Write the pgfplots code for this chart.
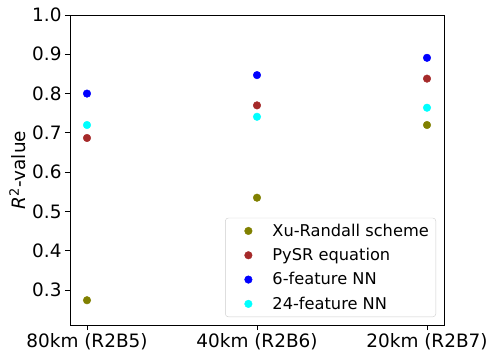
\documentclass[border=0pt]{standalone}
\usepackage{fontspec}
\setmainfont{DejaVu Sans}
\usepackage{pgfplots}
\pgfplotsset{compat=1.18}
\definecolor{cOlive}{HTML}{808000}
\definecolor{cBrown}{HTML}{A52A2A}
\definecolor{cBlue}{HTML}{0000FF}
\definecolor{cCyan}{HTML}{00FFFF}

\begin{document}
\begin{tikzpicture}
\begin{axis}[
  scale only axis,
  width=374bp, height=310bp,
  xmin=-0.1, xmax=2.1,
  ymin=0.211, ymax=1.0,
  xtick={0,1,2},
  xticklabels={80km (R2B5), 40km (R2B6), 20km (R2B7)},
  ytick={0.3,0.4,0.5,0.6,0.7,0.8,0.9,1.0},
  yticklabel style={/pgf/number format/.cd, fixed, fixed zerofill, precision=1},
  /pgf/number format/assume math mode=true,
  tick label style={font=\fontsize{18.5}{22}\selectfont},
  label style={font=\fontsize{18.5}{22}\selectfont},
  ylabel={\textit{R}\textsuperscript{2}-value},
  tick align=outside,
  xtick pos=bottom, ytick pos=left,
  major tick length=5bp,
  axis line style={line width=0.9pt},
  every tick/.style={black, line width=0.8pt},
  legend style={
    at={(1,0)}, anchor=south east, xshift=-8bp, yshift=8bp,
    font=\fontsize{16.3}{19}\selectfont,
    draw=black!20, rounded corners=3bp, fill=white,
    row sep=6.5bp, inner xsep=5bp, inner ysep=4bp,
    /tikz/every even column/.append style={column sep=7bp},
  },
  legend cell align=left,
  legend image code/.code={\draw[draw opacity=0, line width=0.1pt] (0bp,0bp) -- (40bp,0bp); \draw[#1] plot coordinates {(18bp,0bp)};},
]
\addplot[only marks, mark=*, mark size=3.8bp, color=cOlive] coordinates {(0,0.274) (1,0.535) (2,0.720)};
\addlegendentry{Xu-Randall scheme}
\addplot[only marks, mark=*, mark size=3.8bp, color=cBrown] coordinates {(0,0.687) (1,0.770) (2,0.838)};
\addlegendentry{PySR equation}
\addplot[only marks, mark=*, mark size=3.8bp, color=cBlue] coordinates {(0,0.800) (1,0.847) (2,0.891)};
\addlegendentry{6-feature NN}
\addplot[only marks, mark=*, mark size=3.8bp, color=cCyan] coordinates {(0,0.720) (1,0.741) (2,0.764)};
\addlegendentry{24-feature NN}
\coordinate (bl) at (rel axis cs:0,0);
\coordinate (tr) at (rel axis cs:1,1);
\end{axis}
\pgfresetboundingbox
\path ([shift={(-70bp,-35bp)}]bl) rectangle ([shift={(55bp,15bp)}]tr);
\end{tikzpicture}
\end{document}
